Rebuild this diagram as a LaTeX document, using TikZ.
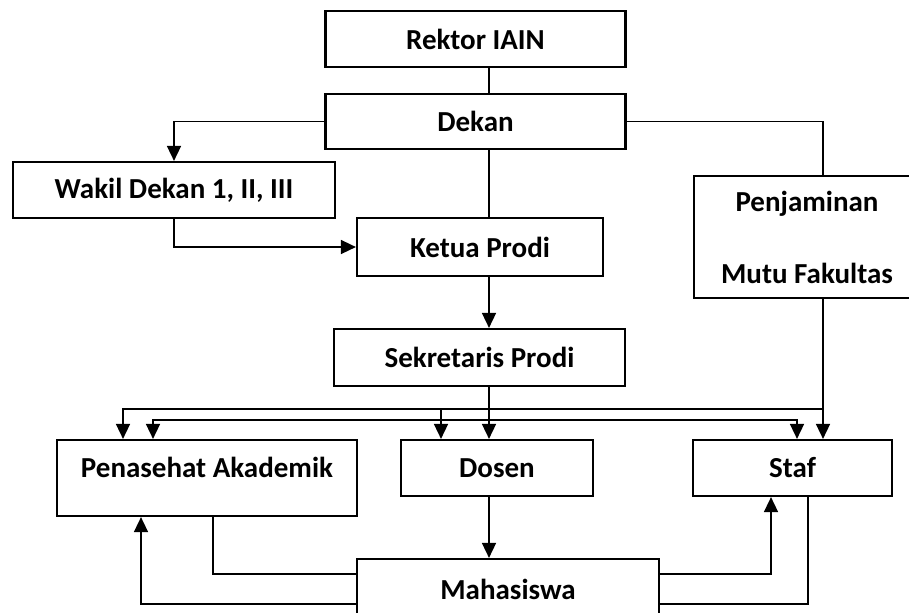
\documentclass[tikz,border=0pt]{standalone}
\usepackage{fontspec}
\setmainfont{Carlito}
\usepackage{tikz}
\usetikzlibrary{arrows.meta, positioning}

\begin{document}
\begin{tikzpicture}[x=0.5pt, y=-0.5pt,
  >={Triangle[length=7.5pt, width=7pt]},
  box/.style={draw, line width=1.1pt, rectangle, inner sep=0pt, align=center,
    font=\fontsize{14.5pt}{17.5pt}\selectfont\bfseries},
  link/.style={line width=0.8pt}]
  \clip (0,0) rectangle (909,612);
  \coordinate (sp) at (489,0);
  \coordinate (qa) at (823,0);

  \node[box, minimum width=150pt, minimum height=28pt] (rektor) at (475.5,39) {Rektor IAIN};
  \node[box, minimum width=150pt, minimum height=27.5pt] (dekan) at (475.5,121.5) {Dekan};
  \node[box, minimum width=161pt, minimum height=28pt] (wakil) at (174,190) {Wakil Dekan 1, II, III};
  \node[box, minimum width=123pt, minimum height=29pt] (ketua) at (480,247) {Ketua Prodi};
  \node[box, minimum width=113pt, minimum height=61pt] (mutu) at (807,237) {Penjaminan\\[18.5pt]Mutu Fakultas};
  \node[box, minimum width=145.5pt, minimum height=28.5pt] (sekre) at (479.5,357.5) {Sekretaris Prodi};
  \node[box, minimum width=150pt, minimum height=38pt, text depth=10.8pt] (pa) at (207,478) {Penasehat Akademik};
  \node[box, minimum width=96pt, minimum height=28pt] (dosen) at (497,468) {Dosen};
  \node[box, minimum width=99.5pt, minimum height=28pt] (staf) at (792.5,468) {Staf};
  \node[box, minimum width=151pt, minimum height=30pt] (mhs) at (508,589) {Mahasiswa};

  \coordinate (bus1) at (823,409);
  \coordinate (bus2) at (489,420);

  \draw[link] (rektor.south -| sp) -- (dekan.north -| sp);
  \draw[link, ->] (dekan.west) -| (wakil.north);
  \draw[link, ->] (wakil.south) |- (ketua.west);
  \draw[link] (dekan.east) -| (mutu.north -| qa);
  \draw[link] (dekan.south -| sp) -- (ketua.north -| sp);
  \draw[link, ->] (ketua.south -| sp) -- (sekre.north -| sp);
  \draw[link, ->] (sekre.south -| sp) -- (dosen.north -| sp);
  \draw[link, ->] (mutu.south -| qa) -- (staf.north -| qa);
  \draw[link, ->] (bus1) -| ([xshift=-42pt]pa.north);
  \draw[link, ->] (bus1 -| 441,0) -- ([xshift=-28pt]dosen.north);
  \draw[link, ->] (bus2) -| ([xshift=-27pt]pa.north);
  \draw[link, ->] (bus2) -| ([xshift=2.25pt]staf.north);
  \draw[link, ->] (dosen.south -| sp) -- (mhs.north -| sp);
  \draw[link] ([xshift=3pt]pa.south) |- ([yshift=7.5pt]mhs.west);
  \draw[link, ->] ([yshift=-7.5pt]mhs.west) -| ([xshift=-33pt]pa.south);
  \draw[link, ->] ([yshift=7.5pt]mhs.east) -| ([xshift=-10.75pt]staf.south);
  \draw[link] ([xshift=7.75pt]staf.south) |- ([yshift=-7.5pt]mhs.east);
\end{tikzpicture}
\end{document}
